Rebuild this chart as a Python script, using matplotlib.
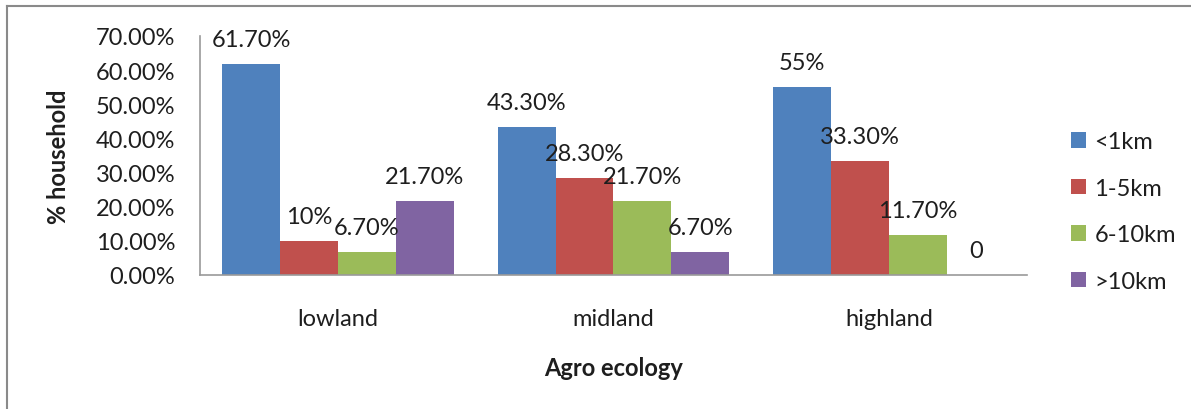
import numpy as np
import matplotlib.pyplot as plt
from matplotlib.lines import Line2D

plt.rcParams['font.family'] = ['Lato', 'DejaVu Sans']

zones = ["lowland", "midland", "highland"]
series = ["<1km", "1-5km", "6-10km", ">10km"]
colors = ["#4F81BD", "#C0504D", "#9BBB59", "#8064A2"]

# share of households per distance class, one list per class (lowland, midland, highland)
lt_1km = [0.617, 0.433, 0.55]
km_1_5 = [0.10, 0.283, 0.333]
km_6_10 = [0.067, 0.217, 0.117]
gt_10km = [0.217, 0.067, 0.0]

labels_lt_1km = ["61.70%", "43.30%", "55%"]
labels_1_5 = ["10%", "28.30%", "33.30%"]
labels_6_10 = ["6.70%", "21.70%", "11.70%"]
labels_gt_10 = ["21.70%", "6.70%", "0"]

values = [lt_1km, km_1_5, km_6_10, gt_10km]
texts = [labels_lt_1km, labels_1_5, labels_6_10, labels_gt_10]

fig = plt.figure(figsize=(11.91, 4.10), dpi=100)
ax = fig.add_axes([0.168, 0.327, 0.694, 0.583])

x = np.arange(len(zones))
w = 0.21
fs = 17
txt_color = "#1e1e1e"
for i, (vals, txt) in enumerate(zip(values, texts)):
    pos = x + (i - 1.5) * w
    ax.bar(pos, vals, width=w, color=colors[i], label=series[i])
    for p, v, t in zip(pos, vals, txt):
        ax.annotate(t, (p, v), xytext=(0, 17.5), textcoords="offset points",
                    ha="center", va="center", fontsize=fs, color=txt_color)

ax.set_xlim(-0.5, 2.5)
ax.set_ylim(0, 0.70)
ax.set_yticks(np.arange(0, 0.71, 0.10))
ax.set_yticklabels([f"{t * 100:.2f}%" for t in np.arange(0, 0.71, 0.10)])
ax.set_xticks(x)
ax.set_xticklabels(zones)
ax.tick_params(axis="y", length=0, pad=18, labelsize=fs, labelcolor=txt_color)
ax.tick_params(axis="x", length=0, pad=23.5, labelsize=fs, labelcolor=txt_color)

for side in ("top", "right"):
    ax.spines[side].set_visible(False)
for side in ("left", "bottom"):
    ax.spines[side].set_color("#9a9a9a")
    ax.spines[side].set_linewidth(1.2)

ax.set_ylabel("% household", fontsize=17, fontweight="bold", labelpad=18,
              color=txt_color)
ax.set_xlabel("Agro ecology", fontsize=17, fontweight="bold", labelpad=20,
              color=txt_color)

leg = ax.legend(loc="upper left", bbox_to_anchor=(1.042, 0.64), frameon=False,
                fontsize=fs, handlelength=0.65, handleheight=0.65,
                handletextpad=0.35, labelspacing=1.08, borderaxespad=0)
for t in leg.get_texts():
    t.set_color(txt_color)

# outer frame of the chart area
fig.add_artist(Line2D([7 / 1191, 1], [1 - 7 / 410, 1 - 7 / 410],
                      transform=fig.transFigure, color="#8a8a8a", lw=1.5))
fig.add_artist(Line2D([7 / 1191, 7 / 1191], [0, 1 - 7 / 410],
                      transform=fig.transFigure, color="#8a8a8a", lw=1.5))

fig.savefig("out.png", dpi=100)
